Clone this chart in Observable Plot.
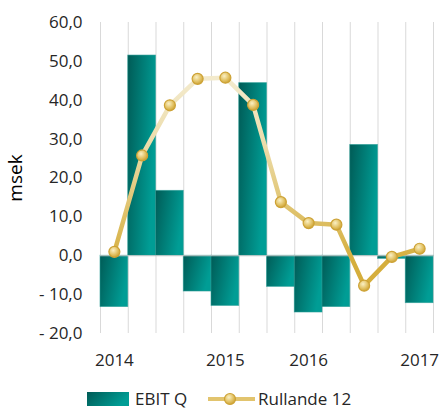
<!DOCTYPE html>
<html>
<head>
<meta charset="utf-8">
<script src="https://cdn.jsdelivr.net/npm/d3@7"></script>
<script src="https://cdn.jsdelivr.net/npm/@observablehq/plot@0.6"></script>
<style>
  body { margin: 0; background: #fff; }
  #wrap { position: relative; width: 440px; height: 409px; overflow: hidden; font-family: "Open Sans", sans-serif; color: #262626; }
  #legend { position: absolute; left: 0; top: 379px; width: 440px; height: 30px; font-size: 17px; }
  #legend .item { position: absolute; top: 0; display: flex; align-items: center; height: 38px; }
</style>
</head>
<body>
<div id="wrap"></div>
<script>
const quarters = ["2014 Q1","2014 Q2","2014 Q3","2014 Q4","2015 Q1","2015 Q2","2015 Q3","2015 Q4","2016 Q1","2016 Q2","2016 Q3","2016 Q4"];
const xTickLabels = ["2014","","","","2015","","","2016","","","","2017"];
const ebitQ = [-13.2, 51.5, 16.7, -9.2, -12.9, 44.4, -8.0, -14.6, -13.2, 28.5, -0.8, -12.2];
const rullande12 = [1.0, 25.8, 38.7, 45.5, 45.8, 38.8, 13.8, 8.4, 8.0, -7.7, -0.3, 1.8];
const yTicks = [-20, -10, 0, 10, 20, 30, 40, 50, 60];

const data = quarters.map((q, i) => ({q, i, ebit: ebitQ[i], r12: rullande12[i]}));
const bounds = d3.range(quarters.length + 1);
const fmt = d => (d < 0 ? "- " + (-d).toFixed(1) : d.toFixed(1)).replace(".", ",");

const chart = Plot.plot({
  width: 440,
  height: 379,
  marginTop: 22,
  marginBottom: 46,
  marginLeft: 100,
  marginRight: 7,
  style: {fontFamily: "Open Sans, sans-serif", fontSize: "17px", color: "#262626", background: "#fff"},
  x: {domain: [0, quarters.length]},
  y: {domain: [-20, 60]},
  marks: [
    Plot.ruleX(bounds, {x: d => d, y1: -20, y2: 60, stroke: "#d9d9d9", strokeWidth: 1}),
    Plot.rect(data, {x1: d => d.i, x2: d => d.i + 1, y1: 0, y2: "ebit", fill: "url(#barGrad)", stroke: "#2a9d95", strokeWidth: 0.8, strokeOpacity: 0.7}),
    Plot.ruleY([0], {stroke: "#c8c8c8", strokeWidth: 1}),
    Plot.line(data, {x: d => d.i + 0.5, y: "r12", stroke: "url(#lineGrad)", strokeWidth: 4.5, strokeLinejoin: "round"}),
    Plot.dot(data, {x: d => d.i + 0.5, y: "r12", r: 5.5, fill: "url(#dotGrad)", stroke: "#cda235", strokeWidth: 1.2}),
    Plot.axisY({ticks: yTicks, tickFormat: fmt, tickSize: 0, tickPadding: 18, label: null, fontSize: 17}),
    Plot.axisY({ticks: [], label: "msek", labelAnchor: "center", labelArrow: "none", labelOffset: 92, fontSize: 19, fill: "#000"}),
    Plot.axisX({ticks: d3.range(quarters.length).map(i => i + 0.5), tickFormat: (d) => xTickLabels[Math.round(d - 0.5)], tickSize: 0, tickPadding: 20, label: null, fontSize: 17})
  ]
});

d3.select(chart).insert("defs", ":first-child").html(`
  <linearGradient id="barGrad" x1="0" y1="0" x2="1" y2="0.35">
    <stop offset="0" stop-color="#005b56"/>
    <stop offset="1" stop-color="#009d95"/>
  </linearGradient>
  <linearGradient id="lineGrad" gradientUnits="userSpaceOnUse" x1="0" y1="80" x2="0" y2="262">
    <stop offset="0" stop-color="#f3eacc"/>
    <stop offset="0.35" stop-color="#ecdcaa"/>
    <stop offset="1" stop-color="#d5ae3c"/>
  </linearGradient>
  <radialGradient id="dotGrad" cx="0.4" cy="0.35" r="0.7">
    <stop offset="0" stop-color="#faf0c4"/>
    <stop offset="0.6" stop-color="#e1c061"/>
    <stop offset="1" stop-color="#c99d2c"/>
  </radialGradient>
`);

const wrap = document.getElementById("wrap");
wrap.appendChild(chart);

const legend = document.createElement("div");
legend.id = "legend";
legend.innerHTML = `
  <div class="item" style="left:87px">
    <svg width="43" height="38"><defs><linearGradient id="lgBar" x1="0" y1="0" x2="1" y2="0.35"><stop offset="0" stop-color="#005b56"/><stop offset="1" stop-color="#009d95"/></linearGradient></defs><rect x="0" y="13" width="42" height="14" fill="url(#lgBar)"/></svg>
    <span style="margin-left:5px">EBIT Q</span>
  </div>
  <div class="item" style="left:208px">
    <svg width="48" height="38"><defs><radialGradient id="lgDot" cx="0.4" cy="0.35" r="0.7"><stop offset="0" stop-color="#faf0c4"/><stop offset="0.6" stop-color="#e1c061"/><stop offset="1" stop-color="#c99d2c"/></radialGradient></defs><line x1="0" y1="20" x2="47" y2="20" stroke="#e2c46e" stroke-width="4"/><circle cx="22" cy="20" r="5.5" fill="url(#lgDot)" stroke="#cda235" stroke-width="1.2"/></svg>
    <span style="margin-left:2px">Rullande 12</span>
  </div>`;
wrap.appendChild(legend);
</script>
</body>
</html>
